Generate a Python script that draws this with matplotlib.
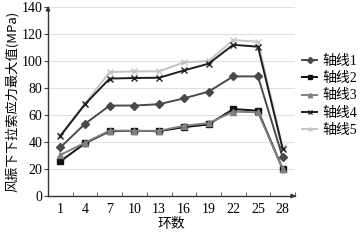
import matplotlib
matplotlib.use("Agg")
import matplotlib.pyplot as plt
import numpy as np

rings = ["1", "4", "7", "10", "13", "16", "19", "22", "25", "28"]
s1 = [36, 53.5, 67, 67, 68, 72.3, 77.3, 88.6, 88.6, 28.6]
s2 = [25.7, 39, 48, 48.3, 48, 51, 53, 64.4, 63.2, 20]
s3 = [30.4, 39.5, 48.5, 48.3, 48.3, 52, 54, 62.5, 62, 20]
s4 = [44.5, 68, 87, 87.4, 87.6, 93, 98, 112, 110.6, 35]
s5 = [45, 68.5, 91.8, 92.3, 92.3, 99, 100, 115.5, 114.3, 36]
labels = ["轴线1", "轴线2", "轴线3", "轴线4", "轴线5"]
yticks = [0, 20, 40, 60, 80, 100, 120, 140]

fam = ["Liberation Serif", "Noto Sans CJK SC"]
plt.rcParams["font.family"] = fam

fig = plt.figure(figsize=(3.64, 2.41), dpi=100)
ax = fig.add_axes([48/364, 45/241, 247/364, 189/241])

x = np.arange(len(rings))
styles = [
    dict(color="#4a4a4a", marker="D", ms=4.2),
    dict(color="#111111", marker="s", ms=4.2),
    dict(color="#808080", marker="^", ms=4.2),
    dict(color="#1e1e1e", marker="x", ms=4.5, mew=1.0),
    dict(color="#c4c4c4", marker="x", ms=4.5, mew=1.0),
]
series = [s1, s2, s3, s4, s5]
handles = [None]*5
for i in [0, 1, 2, 3, 4]:
    h, = ax.plot(x, series[i], lw=1.4, label=labels[i], zorder=3 + (i == 3) * 0.5 - (i == 4) * 0.5, **styles[i])
    handles[i] = h

ax.set_xlim(-0.44, 9.44)
ax.set_ylim(0, 140)
ax.set_yticks(yticks)
ax.set_yticklabels([str(v) for v in yticks])
ax.set_xticks(x)
ax.set_xticklabels(rings)
ax.set_xticks(np.arange(-0.5, 9.6, 1.0), minor=True)
ax.tick_params(axis="x", which="major", length=0, labelsize=10, pad=5)
ax.tick_params(axis="x", which="minor", length=3, direction="in", color="#444444")
ax.tick_params(axis="y", length=3, direction="out", labelsize=10, pad=1, color="#444444")
ax.yaxis.grid(True, color="#e0e0e0", lw=0.8)
ax.set_axisbelow(True)
for sp in ["top", "right"]:
    ax.spines[sp].set_visible(False)
for sp in ["left", "bottom"]:
    ax.spines[sp].set_color("#333333")
    ax.spines[sp].set_linewidth(1.0)

ax.annotate("", xy=(0, 1.02), xycoords="axes fraction", xytext=(0, 0.97),
            arrowprops=dict(arrowstyle="-|>", color="#333333", lw=1.0, mutation_scale=6), annotation_clip=False)
ax.annotate("", xy=(1.015, 0), xycoords="axes fraction", xytext=(0.98, 0),
            arrowprops=dict(arrowstyle="-|>", color="#333333", lw=1.0, mutation_scale=6), annotation_clip=False)

ax.set_xlabel("环数", fontsize=10, labelpad=1, family=["Noto Sans CJK SC"])
ax.set_ylabel("风振下下拉索应力最大值(MPa)", fontsize=9.5, labelpad=2, family=["Noto Sans CJK SC", "Liberation Serif"])

leg = fig.legend(handles=handles, labels=labels, loc="upper left", bbox_to_anchor=(302/364, 1 - 55/241),
                 frameon=False, fontsize=10, handlelength=1.1, handletextpad=0.4,
                 labelspacing=0.3, borderaxespad=0, borderpad=0, markerscale=0.75)

fig.savefig("out.png", dpi=100)
